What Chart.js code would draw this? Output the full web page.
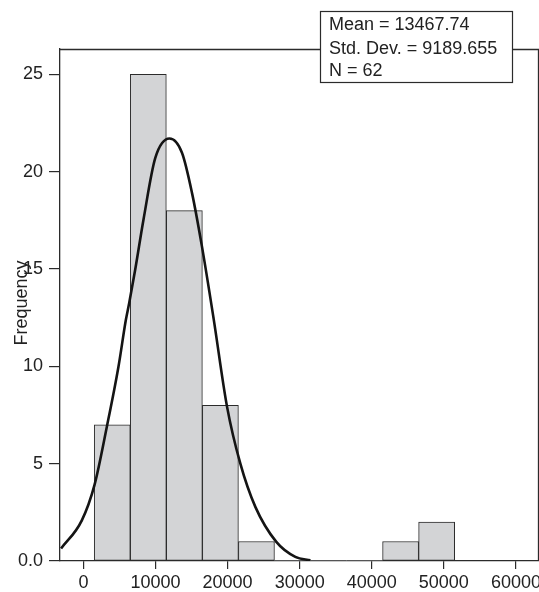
<!DOCTYPE html>
<html>
<head>
<meta charset="utf-8">
<script src="https://cdn.jsdelivr.net/npm/chart.js@4/dist/chart.umd.min.js"></script>
<style>
  html, body { margin: 0; padding: 0; background: #ffffff; }
  #wrap { width: 539px; height: 592px; position: relative; }
</style>
</head>
<body>
<div id="wrap"><canvas id="hist" width="539" height="592"></canvas></div>
<script>
// Histogram bins (lower edge of each 5000-wide bin) and their counts
const binStarts = [1500, 6500, 11500, 16500, 21500, 26500, 31500, 36500, 41500, 46500];
const binCounts = [7, 25, 18, 8, 1, 0, 0, 0, 1, 2];
const binWidth = 5000;

// Fitted normal curve, sampled along the x axis
const curveX = [-3100, -220, 1530, 3250, 4860, 5890, 6350, 7180, 8330, 9960, 11940, 13670, 15060, 16440, 18060, 19920, 21760, 23850, 26760, 29400, 31490];
const curveY = [0.64, 2.09, 3.90, 6.90, 9.98, 12.39, 13.25, 14.96, 17.53, 20.69, 21.70, 20.97, 18.91, 16.16, 12.45, 7.93, 5.01, 2.78, 0.98, 0.21, 0.04];

// Axis ticks
const xTicks = [0, 10000, 20000, 30000, 40000, 50000, 60000];
const yTicks = [0, 5, 10, 15, 20, 25];

// Summary statistics box
const statLines = ["Mean = 13467.74", "Std. Dev. = 9189.655", "N = 62"];
const yTitle = "Frequency";

const FONT = "'Liberation Sans', Arial, sans-serif";
const INK = "#222222";
const EDGE = "#2b2b2b";

const framePlugin = {
  id: 'frame',
  afterDraw(chart) {
    const { ctx, chartArea: a } = chart;
    ctx.save();
    ctx.strokeStyle = EDGE;
    ctx.lineWidth = 1.3;
    // top and right border of the plot frame
    ctx.beginPath();
    ctx.moveTo(a.left, a.top + 0.5);
    ctx.lineTo(a.right - 0.5, a.top + 0.5);
    ctx.lineTo(a.right - 0.5, a.bottom);
    ctx.stroke();

    // statistics box
    const bx = 320.5, by = 11.5, bw = 192, bh = 71;
    ctx.fillStyle = '#ffffff';
    ctx.fillRect(bx, by, bw, bh);
    ctx.lineWidth = 1.2;
    ctx.strokeRect(bx, by, bw, bh);
    ctx.fillStyle = INK;
    ctx.font = "18px " + FONT;
    ctx.textBaseline = 'alphabetic';
    ctx.textAlign = 'left';
    const baselines = [30, 53.5, 76];
    statLines.forEach((t, i) => ctx.fillText(t, 329, baselines[i]));

    // rotated y-axis title
    ctx.translate(22, 303);
    ctx.rotate(-Math.PI / 2);
    ctx.textAlign = 'center';
    ctx.textBaseline = 'middle';
    ctx.fillText(yTitle, 0, 0);
    ctx.restore();
  }
};

const barData = binStarts.map((s, i) => ({ x: s + binWidth / 2, y: binCounts[i] }));
const lineData = curveX.map((x, i) => ({ x: x, y: curveY[i] }));

new Chart(document.getElementById('hist'), {
  data: {
    datasets: [
      {
        type: 'line',
        data: lineData,
        borderColor: '#141414',
        borderWidth: 2.6,
        pointRadius: 0,
        cubicInterpolationMode: 'monotone',
        fill: false,
        order: 0
      },
      {
        type: 'bar',
        data: barData,
        backgroundColor: '#d3d4d6',
        borderColor: EDGE,
        borderWidth: ctx => (ctx.raw && ctx.raw.y > 0 ? 1 : 0),
        borderSkipped: false,
        barPercentage: 1,
        categoryPercentage: 1,
        order: 1
      }
    ]
  },
  options: {
    responsive: false,
    animation: false,
    devicePixelRatio: 1,
    layout: { padding: { top: 49, right: 0, left: 0, bottom: 0 } },
    plugins: { legend: { display: false }, tooltip: { enabled: false } },
    scales: {
      x: {
        type: 'linear',
        offset: false,
        min: -3250,
        max: 63200,
        afterBuildTicks: s => { s.ticks = xTicks.map(v => ({ value: v })); },
        afterFit: s => { s.height = 31; s.paddingLeft = 0; s.paddingRight = 0; },
        grid: { display: true, offset: false, drawOnChartArea: false, drawTicks: true, tickLength: 8, color: EDGE, lineWidth: 1.2 },
        border: { display: true, color: EDGE, width: 1.3 },
        ticks: { color: INK, font: { family: FONT, size: 18 }, padding: 3, maxRotation: 0, autoSkip: false,
                 callback: v => String(v) }
      },
      y: {
        type: 'linear',
        min: 0,
        max: 26.3,
        afterBuildTicks: s => { s.ticks = yTicks.map(v => ({ value: v })); },
        afterFit: s => { s.width = 60; s.paddingTop = 0; s.paddingBottom = 0; },
        grid: { display: true, drawOnChartArea: false, drawTicks: true, tickLength: 11, color: EDGE, lineWidth: 1.2 },
        border: { display: true, color: EDGE, width: 1.3 },
        ticks: { color: INK, font: { family: FONT, size: 18 }, padding: 6,
                 callback: v => (v === 0 ? '0.0' : String(v)) }
      }
    }
  },
  plugins: [framePlugin]
});
</script>
</body>
</html>
